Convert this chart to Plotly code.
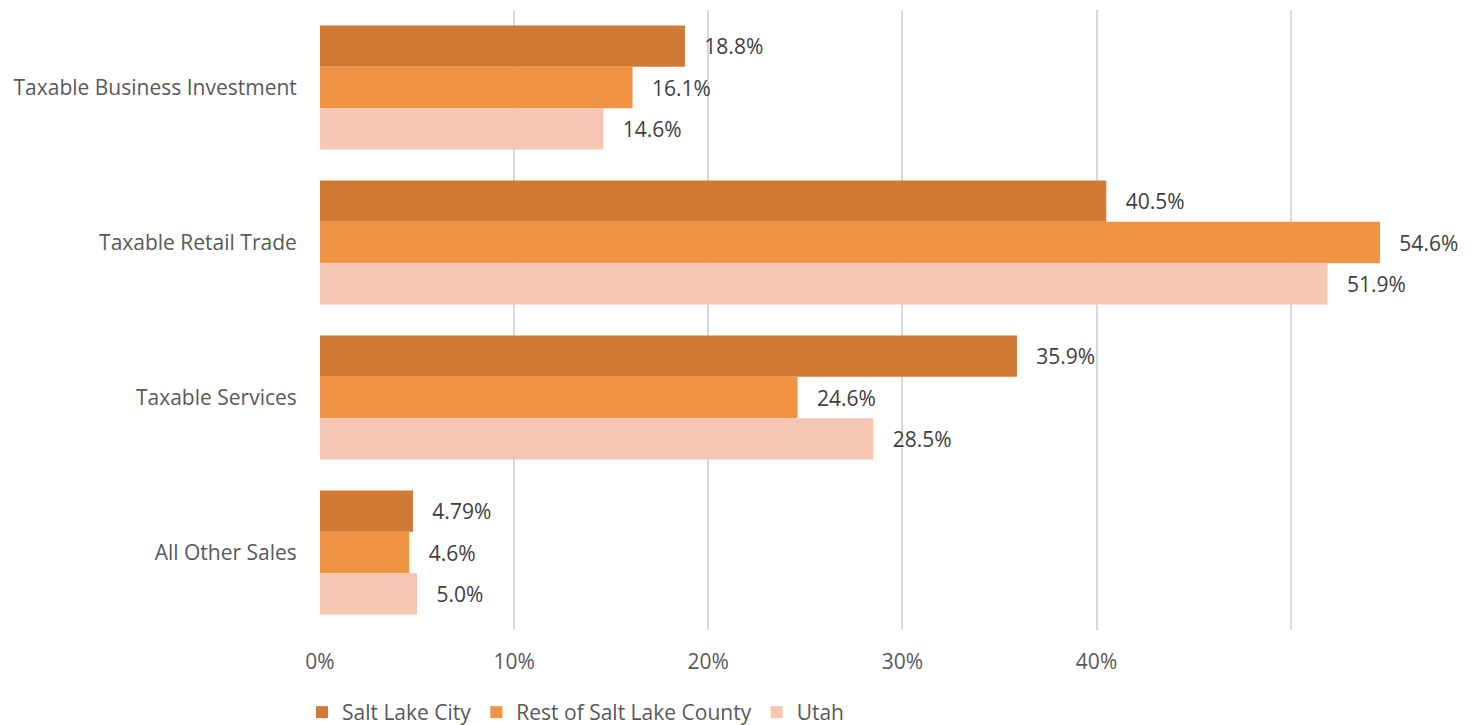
import plotly.graph_objects as go

# Share of taxable sales by category, in percent
categories = [
    "Taxable Business Investment",
    "Taxable Retail Trade",
    "Taxable Services",
    "All Other Sales",
]
salt_lake_city = [18.8, 40.5, 35.9, 4.79]
rest_of_county = [16.1, 54.6, 24.6, 4.6]
utah = [14.6, 51.9, 28.5, 5.0]

series = [
    ("Salt Lake City", salt_lake_city, "#D17A35"),
    ("Rest of Salt Lake County", rest_of_county, "#F09342"),
    ("Utah", utah, "#F6C6B3"),
]

tick_vals = [0, 10, 20, 30, 40, 50]
tick_text = ["0%", "10%", "20%", "30%", "40%", ""]

FONT = "Open Sans, Noto Sans, sans-serif"
FS = 21
PAD = "\u00a0\u00a0\u00a0"

fig = go.Figure()
for name, vals, color in series:
    fig.add_trace(go.Bar(
        y=categories,
        x=vals,
        orientation="h",
        name=name,
        marker=dict(color=color, line=dict(width=0)),
        text=[f"{PAD}{v}%" for v in vals],
        textposition="outside",
        textfont=dict(family=FONT, size=FS, color="#404040"),
        cliponaxis=False,
        hoverinfo="skip",
    ))

fig.update_layout(
    width=1471,
    height=725,
    barmode="group",
    bargap=0.2,
    bargroupgap=0,
    plot_bgcolor="white",
    paper_bgcolor="white",
    margin=dict(l=320, r=25, t=10, b=95, autoexpand=False),
    font=dict(family=FONT, size=FS, color="#595959"),
    legend=dict(
        orientation="h",
        x=-0.016,
        xanchor="left",
        y=-0.1,
        yanchor="top",
        font=dict(family=FONT, size=FS, color="#595959"),
        itemwidth=30,
        tracegroupgap=0,
    ),
    showlegend=True,
)

fig.update_xaxes(
    range=[0, 58],
    tickvals=tick_vals,
    ticktext=tick_text,
    showgrid=True,
    gridcolor="#D9D9D9",
    gridwidth=2,
    zeroline=False,
    showline=False,
    ticks="outside",
    ticklen=13,
    tickcolor="rgba(0,0,0,0)",
    tickfont=dict(family=FONT, size=FS, color="#595959"),
    fixedrange=True,
)

fig.update_yaxes(
    categoryorder="array",
    categoryarray=categories,
    autorange="reversed",
    showgrid=False,
    zeroline=False,
    showline=False,
    ticks="outside",
    ticklen=18,
    tickcolor="rgba(0,0,0,0)",
    tickfont=dict(family=FONT, size=FS, color="#595959"),
    fixedrange=True,
)

fig.write_html("out.html")
